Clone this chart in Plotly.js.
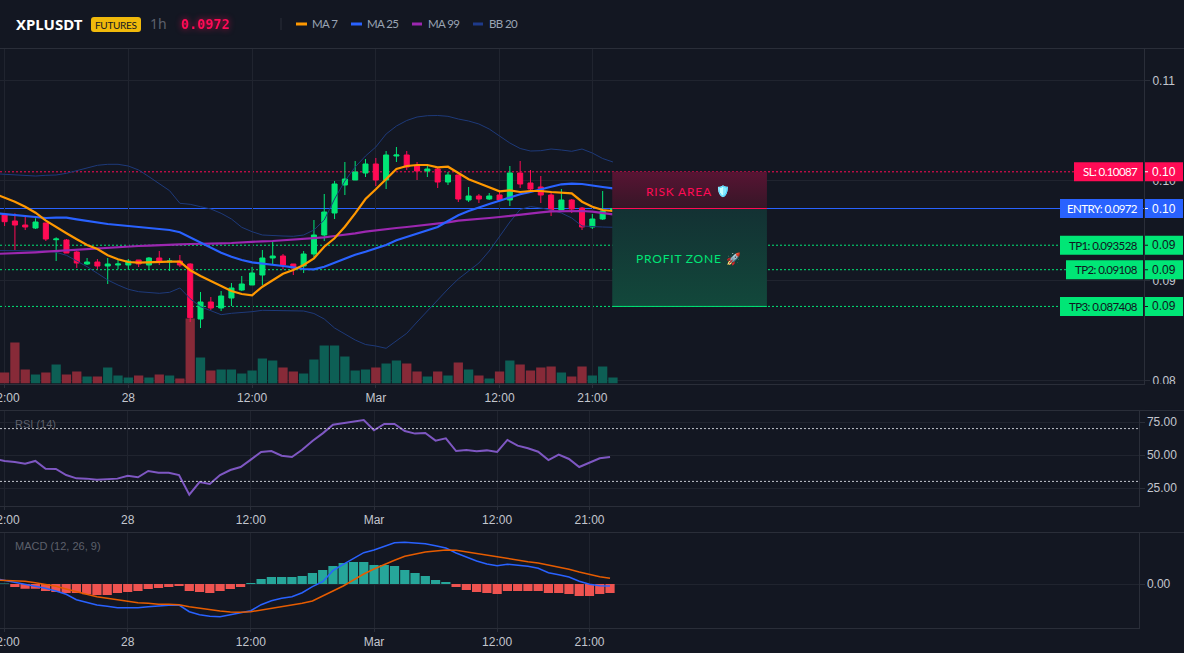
<!DOCTYPE html>
<html>
<head>
<meta charset="utf-8">
<script src="https://cdn.plot.ly/plotly-3.0.1.min.js"></script>
<style>
html,body{margin:0;padding:0;background:#131722;overflow:hidden}
#chart{width:1184px;height:653px}
text.annotation-text[data-unformatted^="RISK"],text.annotation-text[data-unformatted^="PROFIT"]{letter-spacing:.8px}
text.annotation-text[data-unformatted^="SL:"],text.annotation-text[data-unformatted^="ENTRY"],text.annotation-text[data-unformatted^="TP"],text.annotation-text[data-unformatted^="MA "],text.annotation-text[data-unformatted^="BB "]{letter-spacing:-.6px}
text.annotation-text[data-unformatted="FUTURES"]{letter-spacing:-.3px}
text.annotation-text[data-unformatted="<b>0.0972</b>"]{filter:drop-shadow(0 0 3px rgba(255,11,85,.7))}
text.annotation-text[data-unformatted="🛡️"]{filter:sepia(1) saturate(6) hue-rotate(170deg) brightness(1.1)}
</style>
</head>
<body>
<div id="chart"></div>
<script>
// Prices are in units of 0.0001 (965.5 = 0.09655)
const open_ =[965.5,959.5,955.5,952.5,957.5,940.8,940.5,928.5,916.5,918.5,914.5,915.5,915.5,920.5,915.5,922.5,918.5,919.5,916.5,861.5,878.5,872.5,882.5,890.5,895.5,905.5,922.5,924.5,916.5,914.5,926.5,945.5,967.5,995.5,1000.5,1007.5,1016.5,1000.5,1024.5,1025.5,1014.5,1009.5,1011.5,998.5,1005.5,980.5,984.5,981.5,985.5,980.5,1007.5,997.5,993.5,985.5,970.5,980.5,972.5,953.5,961.5,969.5];
const high_ =[965.5,967.2,963.8,962.2,957.5,943.2,941.5,929.5,922.5,921.5,922.5,921.5,921.5,920.5,923.5,929.5,922.5,925.5,917.2,888.5,883.5,889.5,897.5,904.5,913.5,930.5,938.5,926.5,916.5,929.5,960.5,986.5,999.5,1018.5,1019.5,1021.5,1022.5,1029.5,1033.5,1029.5,1018.5,1014.5,1012.5,1008.5,1005.5,993.5,986.5,987.5,990.5,1014.5,1019.5,1010.5,1004.5,989.5,991.5,981.5,973.5,966.5,989.5,972.5];
const low_  =[954.5,930.5,950.5,951.5,939.5,919.5,927.5,912.5,915.5,911.2,896.5,911.2,910.5,913.5,910.5,915.5,909.5,913.5,858.5,852.5,870.5,869.5,874.5,889.5,895.5,895.5,916.5,911.2,905.5,907.5,923.5,939.5,961.5,985.5,1000.5,1003.5,994.5,991.5,1018.5,1010.5,1000.5,1003.5,992.5,995.5,978.5,978.5,977.5,980.5,980.5,974.5,992.5,990.5,977.5,964.5,970.5,967.5,950.5,951.5,960.5,969.5];
const close_=[958.8,955.5,953.5,958.5,941.5,941.5,927.5,917.5,918.5,914.5,916.5,916.5,919.5,916.5,922.5,918.5,919.5,915.5,862.8,878.5,872.5,884.5,892.5,896.5,907.5,922.5,924.5,915.5,912.5,926.5,945.5,968.5,996.5,1001.5,1008.5,1016.5,1000.5,1025.5,1025.5,1013.5,1009.5,1011.5,998.5,1005.5,981.5,984.5,981.5,984.5,980.5,1007.5,996.5,991.5,985.5,970.5,980.5,971.5,953.5,961.5,969.5,972.0];
const volume=[11,41,14,9,11,19,9,12,7,7,16,8,6,8,6,9,8,5,65,26,13,14,14,10,13,25,23,16,12,10,24,38,38,27,13,14,16,20,23,20,12,7,12,8,21,14,8,5,12,23,19,13,16,17,11,7,17,8,17,6];
// Line series start one hour before the first visible candle
const ma7 =[986.8,982.8,978.8,973.8,967.8,959.8,953.2,947.2,941.2,935.5,931.5,925.2,921.2,918.5,917.8,918.2,918.8,918.8,918.8,910.2,904.5,899.5,893.8,889.5,886.5,885.2,893.8,900.5,906.8,910.5,915.5,922.2,933.8,942.2,953.8,967.2,981.5,991.2,1001.5,1011.5,1014.5,1015.5,1015.5,1013.2,1013.8,1007.2,1001.2,997.2,993.2,989.2,990.2,988.5,989.5,989.5,988.5,988.2,987.2,978.8,973.8,970.5,969.5];
const ma25=[967.5,966.5,965.5,964.5,963.2,962.5,962.8,962.8,961.2,959.5,957.8,956.5,955.5,954.5,953.5,952.8,951.8,950.5,948.2,943.2,937.8,932.8,927.8,923.8,920.5,918.2,917.2,915.8,914.5,913.2,911.5,911.2,913.8,917.8,921.8,925.8,928.8,931.8,935.5,940.2,943.5,946.8,950.5,953.5,959.5,965.2,969.5,973.2,976.5,979.8,983.2,986.2,988.5,990.8,993.8,996.2,996.8,996.5,994.8,993.5,992.2];
const ma99=[926.5,926.8,927.2,927.8,928.2,928.8,929.5,930.2,930.8,931.5,931.8,932.8,933.5,934.2,934.5,934.8,935.5,935.8,936.2,936.5,936.5,936.8,937.2,937.5,938.2,938.5,939.2,939.5,940.2,940.5,941.2,941.8,943.2,944.5,946.2,947.2,948.8,950.2,951.2,952.5,953.5,954.5,955.5,956.5,958.2,959.8,960.5,961.5,962.5,963.5,964.8,965.8,967.2,968.2,969.2,969.5,969.8,969.5,968.8,967.8,966.2];
const bbUpper=[1006.8,1006.2,1005.2,1004.5,1004.5,1005.2,1005.5,1007.2,1009.8,1012.5,1015.2,1016.2,1016.2,1014.5,1010.5,1003.8,996.5,989.8,977.2,976.2,973.8,971.5,967.2,961.5,953.2,948.8,945.5,944.8,944.5,944.2,945.5,950.5,960.5,981.5,999.5,1013.5,1024.5,1033.5,1046.5,1054.5,1060,1063.5,1064.8,1065,1064.2,1061.5,1059.5,1056.5,1051.5,1044.5,1037.5,1032,1029.5,1029.8,1031.5,1030.5,1029.2,1031.5,1027.5,1022,1018.5];
const bbLower=[930,930,930.2,930.2,929.8,929.5,928.2,925.2,919.5,913.8,907.2,900.5,895.5,891.2,888.8,887.8,887.2,888.2,892.5,881.8,873.8,869.8,865.8,867.2,867.8,868.8,870.2,870.2,870.2,869.8,869.5,867,861.5,852.5,846.5,840.5,836,834.5,832.2,839.5,847.2,858.5,869,880.5,891.5,901.5,909.5,917.5,929.5,944.5,958.5,971,974,972.5,970.5,967.5,962.5,954.5,953.8,953.5,953.2];
const rsi=[47,45.5,44.7,43.4,45.5,39.6,39.4,34.8,32.3,32.1,31.3,31.8,32.1,34.3,33.1,37.9,36.6,36.6,34.8,19.9,29.5,28.0,34.8,38.6,40.9,46.5,52.3,53.0,49.5,48.5,54.0,60.6,66.4,73.0,74.0,75.0,76.5,68.7,73.5,73.5,68.2,66.2,66.7,60.9,62.6,53.0,53.8,52.8,53.5,52.3,61.4,57.1,55.1,52.5,46.2,50.3,47.0,40.9,43.9,47.5,48.5];
// MACD values are in units of 0.00001
const macdLine=[5.7,3.7,2,0,-2,-4.3,-7,-10.3,-15.7,-18.7,-21,-22.3,-23.7,-23.7,-23.7,-22.7,-21.7,-21.3,-21,-27.7,-30.7,-32.3,-32.7,-30.7,-28.7,-26.7,-20.7,-16.7,-14.3,-12.7,-8.7,-2.7,2.3,13.3,19.7,25.7,31.3,34,38,41.3,41.7,41,40.3,38.3,36,31,26.7,23,20,18.3,19.7,19,17.7,15.7,11.3,9.3,7,2.7,-0.3,-1.7,-2];
const macdSignal=[4,3.7,3.3,2.7,1.3,-0.3,-2.3,-5,-8,-10.3,-12.7,-14.3,-16,-17.7,-18.7,-19.3,-20.3,-20.3,-20.7,-22.7,-24.3,-26,-27,-28,-28.3,-27.7,-26,-24.7,-23,-21.3,-19.3,-17,-11.7,-7,-2,4,10,15,19.7,23.7,27.7,30,32,33,34,33.7,32,30.3,28.7,26.7,25.3,24,22.3,21,19,17,14.7,12,9.3,7.3,5.7];
const macdHist=[0.4,-3,-4.7,-4.7,-7,-8,-9,-9,-10.3,-11,-11,-9,-8,-7,-5,-4,-3,-2,-7,-8,-9,-7,-5,-3,1,5,7,7,7,8,11,14,18,21,22,22,19,19,18,14,11,8,4,2,-3,-6,-8,-9,-10,-7,-7,-7,-7,-9,-9,-10,-12,-12,-10,-9];
const levelNames=["SL: 0.10087","ENTRY: 0.0972","TP1: 0.093528","TP2: 0.09108","TP3: 0.087408"];
const levelValues=[0.10087,0.0972,0.093528,0.09108,0.087408];
const levelShort=["0.10","0.10","0.09","0.09","0.09"];
const xTickHours=[0,12,24,36,48,57];
const xTickText=["12:00","28","12:00","Mar","12:00","21:00"];
const priceTicks=[0.08,0.09,0.10,0.11];
const rsiTicks=[25,50,75];
const legendNames=["MA 7","MA 25","MA 99","BB 20"];

const BG="#131722",GRID="#20242f",LINE="#2a2e39",TXT="#c3c6ce";
const RED="#ff0b55",GREEN="#00e676",BLUE="#2962ff",ORANGE="#ff9800",PURPLE="#9c27b0",NAVY="#1e3a7a";
const W=1184,H=653,UI="'Liberation Sans',sans-serif",NARROW="Lato,sans-serif",NOTO="'Noto Sans',sans-serif";
const px=x=>x/W, py=y=>1-y/H;
const T0=Date.UTC(2026,1,27,12);
const at=h=>new Date(T0+h*3600000).toISOString().slice(0,19).replace('T',' ');
const times=open_.map((_,i)=>at(i));
const lineTimes=[at(-1)].concat(times);
const P=v=>v/10000;
const range=[at(-0.446),at(110.5)];
const tickvals=xTickHours.map(at);
const volColors=close_.map((c,i)=>c>=open_[i]?"#0d5f55":"#872a38");
const ZX0=at(58.93),ZX1=at(73.93);

const line=(y,color,width,ya,xa)=>({type:"scatter",mode:"lines",x:lineTimes,y,xaxis:xa,yaxis:ya,line:{color,width},hoverinfo:"skip",showlegend:false});
const zone=(top,bot,scale)=>({type:"scatter",mode:"lines",x:[ZX0,ZX1,ZX1,ZX0,ZX0],y:[top,top,bot,bot,top],xaxis:"x",yaxis:"y2",fill:"toself",fillgradient:{type:"vertical",colorscale:scale},line:{width:0},hoverinfo:"skip",showlegend:false});

const traces=[
 {type:"bar",x:times,y:volume,xaxis:"x",yaxis:"y",marker:{color:volColors,line:{width:0}},hoverinfo:"skip",showlegend:false},
 {type:"candlestick",x:times,open:open_.map(P),high:high_.map(P),low:low_.map(P),close:close_.map(P),xaxis:"x",yaxis:"y2",
  whiskerwidth:0,width:0.68*3600000,
  increasing:{line:{color:GREEN,width:1},fillcolor:GREEN},decreasing:{line:{color:RED,width:1},fillcolor:RED},hoverinfo:"skip",showlegend:false},
 line(bbUpper.map(P),NAVY,1,"y2","x"),
 line(bbLower.map(P),NAVY,1,"y2","x"),
 line(ma99.map(P),PURPLE,2.2,"y2","x"),
 line(ma25.map(P),BLUE,2.2,"y2","x"),
 line(ma7.map(P),ORANGE,2.2,"y2","x"),
 zone(levelValues[0],levelValues[1],[[0,"#361627"],[1,"#581433"]]),
 zone(levelValues[1],levelValues[4],[[0,"#12483b"],[1,"#133133"]]),
 line(rsi,"#7e57c2",2,"y3","x2"),
 {type:"bar",x:times,y:macdHist,xaxis:"x3",yaxis:"y4",marker:{color:macdHist.map(v=>v>=0?"#26a69a":"#ef5350"),line:{width:0}},hoverinfo:"skip",showlegend:false},
 line(macdLine,BLUE,1.5,"y4","x3"),
 line(macdSignal,"#e65c00",1.5,"y4","x3")
];

const xBase={type:"date",range,tickmode:"array",tickvals,ticktext:xTickText,ticklabeloverflow:"allow",showgrid:true,gridcolor:GRID,gridwidth:1,zeroline:false,showline:true,linecolor:LINE,linewidth:1,ticks:"outside",ticklen:3,tickcolor:LINE,tickfont:{family:UI,size:12,color:TXT},rangeslider:{visible:false}};
const yBase={side:"right",showgrid:true,gridcolor:GRID,zeroline:false,showline:true,linecolor:LINE,linewidth:1,ticks:"outside",ticklen:5,tickcolor:LINE,tickfont:{family:UI,size:12,color:TXT},tickmode:"array"};

const rr=(x0,y0,x1,y1,r)=>{const X=v=>px(v),Y=v=>py(v);return `M${X(x0+r)},${Y(y0)}L${X(x1-r)},${Y(y0)}Q${X(x1)},${Y(y0)} ${X(x1)},${Y(y0+r)}L${X(x1)},${Y(y1-r)}Q${X(x1)},${Y(y1)} ${X(x1-r)},${Y(y1)}L${X(x0+r)},${Y(y1)}Q${X(x0)},${Y(y1)} ${X(x0)},${Y(y1-r)}L${X(x0)},${Y(y0+r)}Q${X(x0)},${Y(y0)} ${X(x0+r)},${Y(y0)}Z`;};
const levelColor=i=>i==0?RED:(i==1?BLUE:GREEN);
const boxLeft=[1074,1060,1060,1066,1060];
const shapes=[
 // levels
 ...levelValues.map((v,i)=>({type:"line",layer:"below",xref:"paper",yref:"y2",x0:0,x1:px(1144),y0:v,y1:v,line:{color:levelColor(i),width:1,dash:i==1?"solid":"2px,2px"}})),
 {type:"line",layer:"above",xref:"x",yref:"y2",x0:ZX0,x1:ZX1,y0:levelValues[1],y1:levelValues[1],line:{color:RED,width:1}},
 {type:"line",layer:"above",xref:"x",yref:"y2",x0:ZX0,x1:ZX1,y0:levelValues[4],y1:levelValues[4],line:{color:GREEN,width:1}},
 // RSI bands
 ...[70,30].map(v=>({type:"line",xref:"paper",yref:"y3",x0:0,x1:px(1138.5),y0:v,y1:v,layer:"above",line:{color:"#c4c7cf",width:1,dash:"2px,2px"}})),
 // clip under the price axis
 {type:"rect",layer:"above",xref:"paper",yref:"paper",x0:px(1145),x1:1,y0:py(409.5),y1:py(384),fillcolor:BG,line:{width:0}},
 // pane separators
 ...[48.5,410.5,532.5].map(y=>({type:"line",layer:"above",xref:"paper",yref:"paper",x0:0,x1:1,y0:py(y),y1:py(y),line:{color:LINE,width:1}})),
 // header separator
 {type:"line",layer:"above",xref:"paper",yref:"paper",x0:px(281),x1:px(281),y0:py(18),y1:py(30),line:{color:LINE,width:1}},
 // FUTURES badge
 {type:"path",layer:"above",xref:"paper",yref:"paper",path:rr(91,17,141,32,3),fillcolor:"#f0b90b",line:{width:0}},
 // legend swatches
 ...[[296,307,ORANGE],[351,362,BLUE],[412,422,PURPLE],[473,483,"#1e3a8a"]].map(s=>({type:"rect",layer:"above",xref:"paper",yref:"paper",x0:px(s[0]),x1:px(s[1]),y0:py(25.5),y1:py(22.5),fillcolor:s[2],line:{width:0}})),
 // level tag boxes
 ...levelValues.flatMap((v,i)=>[
  {type:"rect",layer:"above",xref:"paper",yref:"y2",ysizemode:"pixel",yanchor:v,y0:-9.5,y1:9.5,x0:px(boxLeft[i]),x1:px(1143),fillcolor:levelColor(i),line:{width:0}},
  {type:"rect",layer:"above",xref:"paper",yref:"y2",ysizemode:"pixel",yanchor:v,y0:-9.5,y1:9.5,x0:px(1145),x1:px(1183),fillcolor:levelColor(i),line:{width:0}},
  {type:"rect",layer:"above",xref:"paper",yref:"y2",ysizemode:"pixel",yanchor:v,y0:-0.5,y1:0.5,x0:px(1145),x1:px(1148),fillcolor:i<2?"#ffffff":"#10151f",line:{width:0}}
 ])
];

const note=(text,x,y,family,size,color,anchor)=>({text,xref:"paper",yref:"paper",x:px(x),y:py(y),xanchor:anchor||"left",yanchor:"middle",showarrow:false,font:{family,size,color},borderpad:0});
const tags=levelNames.flatMap((name,i)=>{
 const fg=i<2?"#ffffff":"#10151f";
 return [
  {text:name,xref:"paper",yref:"y2",x:px(1139),y:levelValues[i],xanchor:"right",yanchor:"middle",showarrow:false,borderpad:0,font:{family:NARROW,size:11.5,color:fg}},
  {text:levelShort[i],xref:"paper",yref:"y2",x:px(1164),y:levelValues[i],xanchor:"center",yanchor:"middle",showarrow:false,borderpad:0,font:{family:UI,size:12,color:fg}}
 ];
});

const annotations=[
 note("<b>XPLUSDT</b>",15,24,NOTO,15,"#ffffff"),
 note("FUTURES",116,24.5,NARROW,10,"#131722","center"),
 note("1h",149,24,NOTO,14,"#5d606b"),
 note("<b>0.0972</b>",180,24,"'DejaVu Sans Mono',monospace",13.5,RED),
 ...legendNames.map((t,i)=>note(t,[311,366,427,488][i],24,NARROW,11.5,"#9aa4b4")),
 note("RSI (14)",14,424,UI,11,"#5d606b"),
 note("MACD (12, 26, 9)",14,546,UI,11,"#5d606b"),
 note("RISK AREA",645,191,NARROW,12,RED),
 note("🛡️",723,191,NARROW,11,"#4aa3f0","center"),
 note("PROFIT ZONE",635,258,NARROW,12,GREEN),
 note("🚀",733,258,NARROW,12,GREEN,"center"),
 ...tags
];

const layout={
 width:W,height:H,margin:{l:0,r:0,t:0,b:0,pad:0},paper_bgcolor:BG,plot_bgcolor:BG,showlegend:false,bargap:0.1,hovermode:false,
 xaxis:Object.assign({},xBase,{domain:[0,px(1144)],anchor:"y"}),
 xaxis2:Object.assign({},xBase,{domain:[0,px(1138.5)],anchor:"y3"}),
 xaxis3:Object.assign({},xBase,{domain:[0,px(1138.5)],anchor:"y4"}),
 yaxis:{domain:[py(383.5),py(48)],range:[0,335.5],visible:false,fixedrange:true},
 yaxis2:Object.assign({},yBase,{domain:[py(383.5),py(48)],overlaying:"y",anchor:"x",range:[0.0797,0.11325],tickvals:priceTicks,tickformat:".2f"}),
 yaxis3:Object.assign({},yBase,{domain:[py(505.5),py(410)],anchor:"x2",range:[11.74,84.09],tickvals:rsiTicks,tickformat:".2f"}),
 yaxis4:Object.assign({},yBase,{domain:[py(627.5),py(532)],anchor:"x3",range:[-43.5,52],tickvals:[0],tickformat:".2f"}),
 shapes,annotations
};
Plotly.newPlot("chart",traces,layout,{displayModeBar:false,staticPlot:true});
</script>
</body>
</html>
